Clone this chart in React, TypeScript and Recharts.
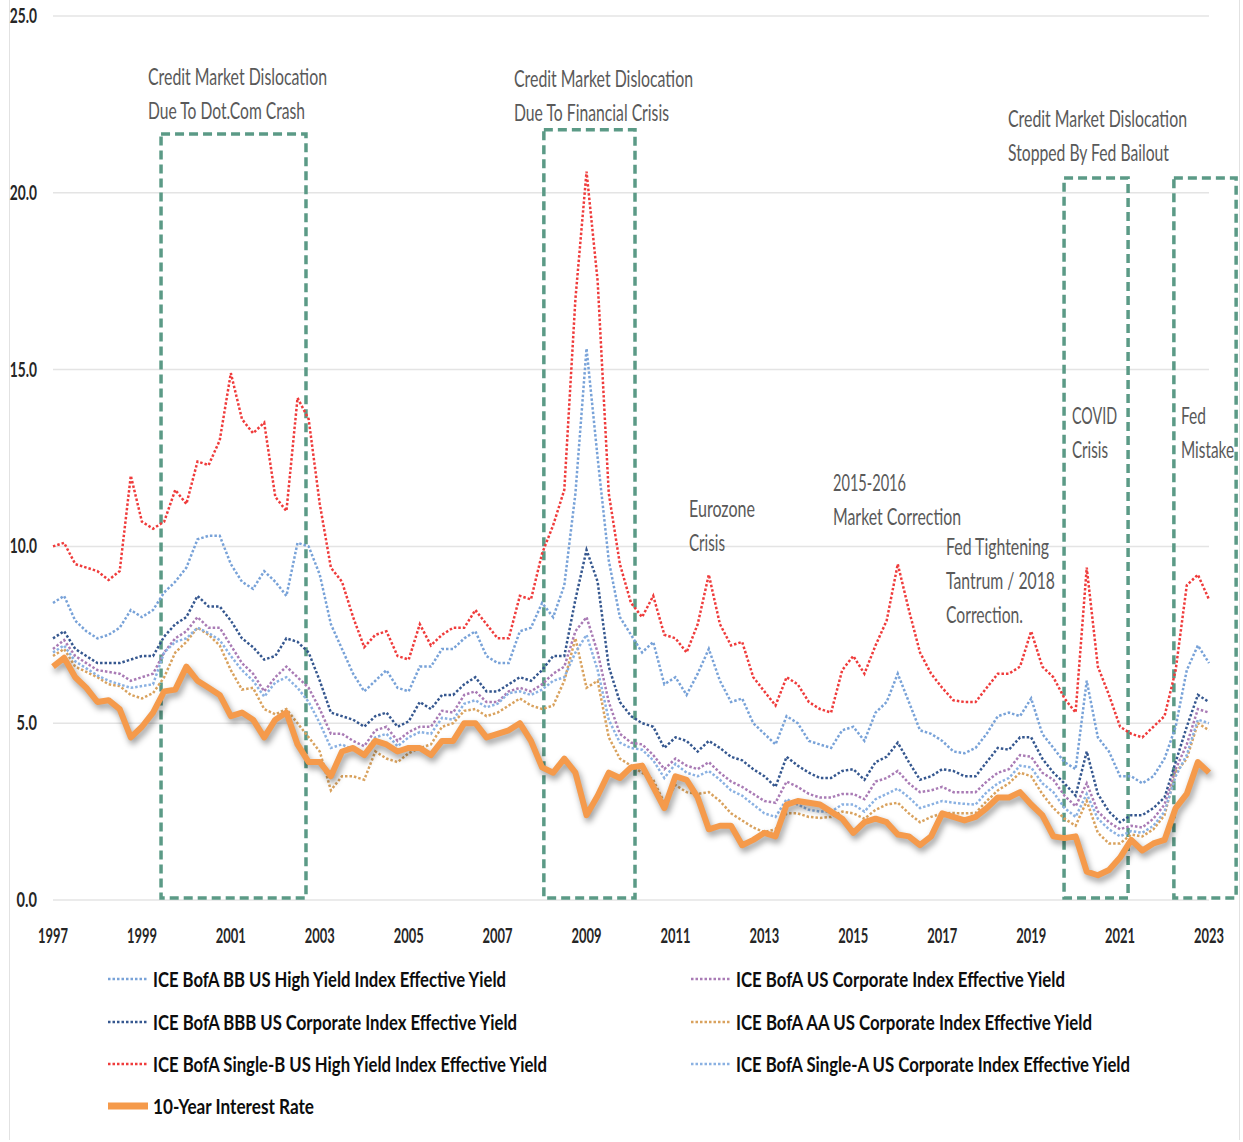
import React from "react";
import {
  LineChart,
  Line,
  XAxis,
  YAxis,
  CartesianGrid,
  ReferenceArea,
} from "recharts";

// quarterly observations, 1997 Q1 .. 2023 Q1
const startYear = 1997;
const dates = Array.from({ length: 105 }, (_, i) => startYear + i / 4);

const singleB = [
  10.0, 10.1, 9.5, 9.4, 9.3, 9.05, 9.3, 12.0, 10.7, 10.5, 10.7, 11.6,
  11.2, 12.4, 12.3, 13.0, 14.9, 13.6, 13.2, 13.5, 11.4, 11.0, 14.2, 13.6,
  11.2, 9.4, 9.0, 8.0, 7.15, 7.5, 7.6, 6.9, 6.8, 7.8, 7.2, 7.5,
  7.7, 7.7, 8.2, 7.8, 7.4, 7.4, 8.6, 8.5, 9.8, 10.6, 11.6, 17.0,
  20.6, 17.5, 11.5, 9.5, 8.4, 8.0, 8.6, 7.5, 7.4, 7.0, 7.8, 9.2,
  7.8, 7.2, 7.3, 6.3, 5.9, 5.5, 6.3, 6.1, 5.6, 5.4, 5.3, 6.5,
  6.9, 6.4, 7.2, 7.9, 9.5, 8.2, 7.0, 6.4, 6.0, 5.65, 5.6, 5.6,
  6.0, 6.4, 6.4, 6.6, 7.6, 6.6, 6.3, 5.7, 5.3, 9.4, 6.6, 5.8,
  4.9, 4.7, 4.6, 4.9, 5.2, 6.5, 8.9, 9.2, 8.5,
];

const bb = [
  8.4, 8.6, 7.9, 7.6, 7.4, 7.5, 7.7, 8.2, 8.0, 8.2, 8.7, 9.0,
  9.4, 10.2, 10.3, 10.3, 9.5, 9.0, 8.8, 9.3, 9.0, 8.6, 10.1, 10.0,
  9.2, 7.8, 7.1, 6.4, 5.9, 6.2, 6.5, 6.0, 5.9, 6.6, 6.6, 7.1,
  7.1, 7.4, 7.6, 6.9, 6.7, 6.7, 7.6, 7.7, 8.4, 8.0, 8.9, 11.5,
  15.6, 12.5, 9.6, 8.0, 7.5, 7.0, 7.3, 6.1, 6.3, 5.8, 6.4, 7.1,
  6.2, 5.6, 5.7, 5.0, 4.7, 4.4, 5.2, 5.0, 4.5, 4.4, 4.3, 4.8,
  4.9, 4.5, 5.3, 5.6, 6.4, 5.6, 4.8, 4.7, 4.5, 4.2, 4.15, 4.3,
  4.7, 5.2, 5.3, 5.2, 5.7, 4.7, 4.3, 3.9, 3.7, 6.2, 4.6, 4.2,
  3.5, 3.5, 3.3, 3.5, 4.0, 4.9, 6.5, 7.2, 6.7,
];

const bbb = [
  7.4, 7.6, 7.1, 6.9, 6.7, 6.7, 6.7, 6.8, 6.9, 6.9, 7.45, 7.8,
  8.0, 8.6, 8.3, 8.3, 7.9, 7.4, 7.15, 6.8, 6.9, 7.4, 7.3, 7.0,
  6.2, 5.3, 5.2, 5.1, 4.9, 5.2, 5.3, 4.9, 5.05, 5.6, 5.4, 5.8,
  5.8, 6.1, 6.3, 5.9, 5.9, 6.1, 6.3, 6.2, 6.5, 6.9, 6.9, 8.5,
  9.9, 9.0, 6.6, 5.6, 5.2, 5.0, 4.9, 4.3, 4.6, 4.5, 4.2, 4.5,
  4.3, 4.05, 3.95, 3.7, 3.5, 3.2, 4.05, 3.8, 3.6, 3.45, 3.45, 3.65,
  3.7, 3.4, 3.9, 4.05, 4.45, 3.9, 3.4, 3.5, 3.7, 3.65, 3.5, 3.5,
  3.9, 4.3, 4.25, 4.6, 4.6, 4.0, 3.6, 3.3, 2.95, 4.2, 3.0, 2.5,
  2.2, 2.4, 2.4, 2.6, 2.9, 3.9, 4.9, 5.8, 5.6,
];

const usCorp = [
  7.1, 7.35, 6.9, 6.7, 6.5, 6.45, 6.4, 6.2, 6.3, 6.4, 7.0, 7.4,
  7.6, 8.0, 7.7, 7.7, 7.2, 6.7, 6.4, 5.9, 6.3, 6.6, 6.3, 6.0,
  5.4, 4.7, 4.7, 4.5, 4.35, 4.8, 4.9, 4.5, 4.75, 4.9, 4.9, 5.35,
  5.3, 5.8, 5.9, 5.6, 5.6, 5.9, 6.0, 5.9, 6.1, 6.4, 6.6, 7.6,
  8.0, 7.0, 5.6, 4.7, 4.45, 4.4, 4.1, 3.7, 4.0, 3.8, 3.7, 3.9,
  3.6, 3.35, 3.2, 3.0, 2.8, 2.75, 3.35, 3.2, 3.0, 2.9, 2.9, 3.0,
  3.0, 2.85, 3.35, 3.45, 3.65, 3.3, 3.05, 3.1, 3.2, 3.05, 3.05, 3.05,
  3.35, 3.6, 3.7, 4.1, 4.05, 3.6, 3.4, 2.95, 2.65, 3.3, 2.5, 2.2,
  2.0, 2.1, 2.05, 2.3, 2.7, 3.7, 4.4, 5.4, 5.3,
];

const aa = [
  6.9, 7.1, 6.6, 6.45, 6.3, 6.1, 6.05, 5.8, 5.7, 5.85, 6.3, 7.0,
  7.3, 7.7, 7.5, 7.2, 6.5, 5.95, 6.0, 5.4, 5.25, 5.4, 5.0, 4.6,
  4.2, 3.1, 3.5, 3.5, 3.4, 4.2, 4.0, 3.9, 4.15, 4.3, 4.4, 4.9,
  5.0, 5.35, 5.4, 5.2, 5.3, 5.5, 5.7, 5.5, 5.4, 5.5, 6.2, 7.4,
  6.0, 6.2, 4.6, 4.0, 3.8, 3.6, 3.4, 2.75, 3.25, 3.05, 3.0, 3.05,
  2.8, 2.45, 2.25, 2.05, 1.92, 2.0, 2.45, 2.45, 2.35, 2.32, 2.35, 2.5,
  2.45, 2.3, 2.55, 2.7, 2.75, 2.45, 2.2, 2.35, 2.45, 2.46, 2.45, 2.46,
  2.8, 3.1, 3.3, 3.6, 3.5, 3.0, 2.6, 2.3, 2.1, 2.8, 1.9, 1.6,
  1.6, 1.85, 1.8, 2.0, 2.4, 3.6, 4.0, 5.0, 4.8,
];

const singleA = [
  7.0, 7.2, 6.75, 6.55, 6.35, 6.2, 6.1, 6.0, 6.05, 6.1, 7.0, 7.3,
  7.4, 7.7, 7.55, 7.35, 6.9, 6.5, 6.2, 5.75, 6.15, 6.3, 6.0, 5.6,
  5.0, 4.3, 4.4, 4.25, 4.15, 4.6, 4.7, 4.35, 4.6, 4.75, 4.7, 5.15,
  5.1, 5.55, 5.65, 5.45, 5.55, 5.85, 5.9, 5.8, 5.95, 6.2, 6.3, 7.0,
  7.5, 6.5, 5.1, 4.45, 4.3, 4.25, 3.95, 3.45, 3.85, 3.6, 3.5, 3.65,
  3.4, 3.1, 2.95, 2.7, 2.45, 2.35, 2.85, 2.7, 2.55, 2.5, 2.5, 2.7,
  2.7, 2.5, 2.85, 3.0, 3.15, 2.9, 2.6, 2.7, 2.8, 2.75, 2.72, 2.7,
  3.05, 3.3, 3.45, 3.8, 3.75, 3.3, 3.05, 2.6, 2.35, 3.0, 2.3, 2.0,
  1.8, 1.95, 1.9, 2.1, 2.5, 3.5, 4.1, 5.1, 5.0,
];

const tenYear = [
  6.6, 6.85, 6.3, 6.0, 5.6, 5.65, 5.4, 4.6, 4.9, 5.3, 5.9, 5.95,
  6.6, 6.2, 6.0, 5.8, 5.2, 5.3, 5.1, 4.6, 5.1, 5.3, 4.4, 3.9,
  3.9, 3.5, 4.2, 4.3, 4.1, 4.5, 4.4, 4.2, 4.3, 4.3, 4.1, 4.5,
  4.5, 5.0, 5.0, 4.6, 4.7, 4.8, 5.0, 4.5, 3.75, 3.6, 4.0, 3.6,
  2.4, 2.95, 3.6, 3.45, 3.75, 3.8, 3.2, 2.6, 3.5, 3.4, 2.9, 2.0,
  2.1, 2.1, 1.55, 1.7, 1.9, 1.8, 2.7, 2.8, 2.75, 2.7, 2.5, 2.3,
  1.9, 2.2, 2.3, 2.2, 1.85, 1.8, 1.55, 1.8, 2.45, 2.35, 2.25, 2.35,
  2.6, 2.9, 2.9, 3.05, 2.7, 2.4, 1.8, 1.75, 1.8, 0.8, 0.7, 0.85,
  1.2, 1.7, 1.4, 1.6, 1.7, 2.6, 3.0, 3.9, 3.6,
];

const xTicks = [1997, 1999, 2001, 2003, 2005, 2007, 2009, 2011, 2013, 2015, 2017, 2019, 2021, 2023];
const yTicks = [0, 5, 10, 15, 20, 25];

// dashed "dislocation" boxes, in data units
const boxX1 = [1999.43, 2008.04, 2019.74, 2022.21];
const boxX2 = [2002.69, 2010.09, 2021.18, 2023.61];
const boxTop = [21.66, 21.78, 20.42, 20.42];
const boxBottom = 0.06;

const series = [
  { key: "bb", name: "ICE BofA BB US High Yield Index Effective Yield", color: "#78a2d8", values: bb },
  { key: "bbb", name: "ICE BofA BBB US Corporate Index Effective Yield", color: "#35578f", values: bbb },
  { key: "singleB", name: "ICE BofA Single-B US High Yield Index Effective Yield", color: "#ef3b3b", values: singleB },
  { key: "usCorp", name: "ICE BofA US Corporate Index Effective Yield", color: "#a97bb5", values: usCorp },
  { key: "aa", name: "ICE BofA AA US Corporate Index Effective Yield", color: "#d9a25e", values: aa },
  { key: "singleA", name: "ICE BofA Single-A US Corporate Index Effective Yield", color: "#8ab1e2", values: singleA },
];
const tenYearName = "10-Year Interest Rate";
const tenYearColor = "#f59a4b";

const data = dates.map((date, i) => {
  const row: Record<string, number> = { date, tenYear: tenYear[i] };
  series.forEach((s) => (row[s.key] = s.values[i]));
  return row;
});

const font = 'Lato, "Open Sans", sans-serif';

// legend layout: [seriesKey, column, row, text width]
const legendLayout: [string, number, number, number][] = [
  ["bb", 0, 0, 353],
  ["bbb", 0, 1, 364],
  ["singleB", 0, 2, 394],
  ["tenYear", 0, 3, 161],
  ["usCorp", 1, 0, 329],
  ["aa", 1, 1, 356],
  ["singleA", 1, 2, 394],
];
const legendColX = [108, 691];
const legendRowY = [987, 1030, 1072, 1114];

// annotation text: [text, x, baseline, width]
const notes: [string, number, number, number][] = [
  ["Credit Market Dislocation", 148, 85, 179],
  ["Due To Dot.Com Crash", 148, 119, 157],
  ["Credit Market Dislocation", 514, 87, 179],
  ["Due To Financial Crisis", 514, 121, 155],
  ["Credit Market Dislocation", 1008, 127, 179],
  ["Stopped By Fed Bailout", 1008, 161, 161],
  ["COVID", 1072, 424, 45],
  ["Crisis", 1072, 458, 36],
  ["Fed", 1181, 424, 25],
  ["Mistake", 1181, 458, 53],
  ["Eurozone", 689, 517, 66],
  ["Crisis", 689, 551, 36],
  ["2015-2016", 833, 491, 73],
  ["Market Correction", 833, 525, 128],
  ["Fed Tightening", 946, 555, 103],
  ["Tantrum / 2018", 946, 589, 109],
  ["Correction.", 946, 623, 77],
];

function YTick({ x, y, payload }: any) {
  const label = Number(payload.value).toFixed(1);
  return (
    <text
      x={x - 8}
      y={y + 7}
      textAnchor="end"
      fontFamily={font}
      fontSize={21}
      fontWeight={700}
      fill="#262626"
      textLength={label.length * 6.8}
      lengthAdjust="spacingAndGlyphs"
    >
      {label}
    </text>
  );
}

function XTick({ x, y, payload }: any) {
  return (
    <text
      x={x}
      y={y + 35}
      textAnchor="middle"
      fontFamily={font}
      fontSize={21}
      fontWeight={700}
      fill="#262626"
      textLength={30}
      lengthAdjust="spacingAndGlyphs"
    >
      {payload.value}
    </text>
  );
}

function Overlay() {
  const lookup = (key: string) =>
    key === "tenYear"
      ? { name: tenYearName, color: tenYearColor }
      : series.find((s) => s.key === key)!;
  return (
    <svg
      width={1243}
      height={1142}
      style={{ position: "absolute", left: 0, top: 0, pointerEvents: "none" }}
    >
      {notes.map(([t, x, y, w], i) => (
        <text
          key={i}
          x={x}
          y={y}
          fontFamily={font}
          fontSize={23}
          fill="#595959"
          textLength={w}
          lengthAdjust="spacingAndGlyphs"
        >
          {t}
        </text>
      ))}
      {legendLayout.map(([key, col, row, w]) => {
        const s = lookup(key);
        const x = legendColX[col];
        const y = legendRowY[row];
        const thick = key === "tenYear";
        return (
          <g key={key}>
            <line
              x1={x}
              x2={x + 40}
              y1={y - 8}
              y2={y - 8}
              stroke={s.color}
              strokeWidth={thick ? 7 : 2.5}
              strokeDasharray={thick ? undefined : "2.5 2"}
            />
            <text
              x={x + 45}
              y={y}
              fontFamily={font}
              fontSize={21}
              fontWeight={700}
              fill="#0d0d0d"
              textLength={w}
              lengthAdjust="spacingAndGlyphs"
            >
              {s.name}
            </text>
          </g>
        );
      })}
    </svg>
  );
}

export default function App() {
  return (
    <div style={{ position: "relative", width: 1243, height: 1142, background: "#fff" }}>
      <style>{`
        body { margin: 0; }
        .ten-year path { filter: drop-shadow(2px 4px 3px rgba(0,0,0,0.4)); }
      `}</style>
      <div
        style={{
          position: "absolute",
          left: 9,
          top: 0,
          width: 1229,
          height: 1140,
          borderLeft: "1px solid #e2e2e2",
          borderRight: "1px solid #e2e2e2",
        }}
      />
      <LineChart
        width={1243}
        height={1142}
        data={data}
        margin={{ top: 16, right: 34, bottom: 192, left: 0 }}
      >
        <CartesianGrid vertical={false} stroke="#e4e4e4" strokeWidth={1.5} />
        <XAxis
          dataKey="date"
          type="number"
          domain={[1997, 2023]}
          ticks={xTicks}
          axisLine={false}
          tickLine={false}
          height={50}
          tick={<XTick />}
          interval={0}
        />
        <YAxis
          domain={[0, 25]}
          ticks={yTicks}
          axisLine={false}
          tickLine={false}
          width={53}
          tick={<YTick />}
        />
        {series.map((s) => (
          <Line
            key={s.key}
            type="linear"
            dataKey={s.key}
            name={s.name}
            stroke={s.color}
            strokeWidth={2.5}
            strokeDasharray="2.5 2"
            dot={false}
            activeDot={false}
            isAnimationActive={false}
          />
        ))}
        <Line
          type="linear"
          dataKey="tenYear"
          name={tenYearName}
          className="ten-year"
          stroke={tenYearColor}
          strokeWidth={6}
          strokeLinejoin="round"
          dot={false}
          activeDot={false}
          isAnimationActive={false}
        />
        {boxX1.map((x1, i) => (
          <ReferenceArea
            key={i}
            x1={x1}
            x2={boxX2[i]}
            y1={boxBottom}
            y2={boxTop[i]}
            fill="none"
            stroke="#5b9a86"
            strokeWidth={3.5}
            strokeDasharray="9 5"
            ifOverflow="visible"
          />
        ))}
      </LineChart>
      <Overlay />
    </div>
  );
}
